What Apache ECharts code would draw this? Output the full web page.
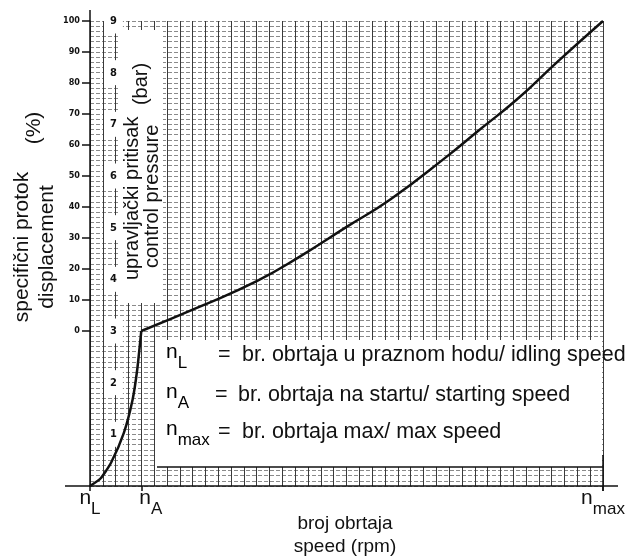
<!DOCTYPE html>
<html>
<head>
<meta charset="utf-8">
<script src="https://cdn.jsdelivr.net/npm/echarts@6/dist/echarts.min.js"></script>
<style>
html, body { margin: 0; padding: 0; background: #fff; }
#main { width: 633px; height: 558px; }
</style>
</head>
<body>
<div id="main"></div>
<script>
// speed axis: nL = 0, nmax = 100
var speed = [0, 2, 4.1, 6.6, 8.3, 9.2, 10, 21.4, 32.6, 40.9, 50.1, 58.6, 69.6, 76, 83.2, 91, 100]
// control pressure (bar)
var pressure = [0, 0.14, 0.45, 1.03, 1.67, 2.25, 3.0, 3.47, 3.97, 4.44, 5.02, 5.55, 6.38, 6.9, 7.48, 8.2, 9.0]
var startIndex = 6 // nA, where the curve bends

var speedTicks = [0, 10, 100]
var speedNames = ['{n|n}{s|L}', '{g|}{n|n}{s|A}', '{n|n}{s|max}']
var pctTicks = [0, 10, 20, 30, 40, 50, 60, 70, 80, 90, 100]
var barTicks = [1, 2, 3, 4, 5, 6, 7, 8, 9]

var font = 'Liberation Sans, Arial, sans-serif'
var ink = '#111'
var hatch = { color: '#8a8a8a', type: [4, 2] }

var myChart = echarts.init(document.getElementById('main'))

function txt(x, y, text, size, rot, align) {
  return {
    type: 'text', x: x, y: y, rotation: rot || 0, z: 6,
    style: { text: text, fill: ink, font: size + 'px ' + font, align: align || 'left', verticalAlign: 'middle' }
  }
}
function line(x1, y1, x2, y2, w) {
  return { type: 'line', z: 4, shape: { x1: x1, y1: y1, x2: x2, y2: y2 }, style: { stroke: ink, lineWidth: w || 1.5 } }
}
var subRich = {
  n: { fontSize: 21, fontFamily: font, color: ink, lineHeight: 30, verticalAlign: 'top' },
  s: { fontSize: 17, fontFamily: font, color: ink, lineHeight: 17, verticalAlign: 'bottom' },
  g: { width: 19 }
}
function subTxt(x, y, main, sub) {
  return {
    type: 'text', x: x, y: y, z: 6,
    style: { text: '{n|' + main + '}{s|' + sub + '}', rich: subRich, align: 'left', verticalAlign: 'middle' }
  }
}
function pairs(from, to) {
  var out = []
  for (var i = from; i <= to; i++) out.push([speed[i], pressure[i]])
  return out
}

myChart.setOption({
  animation: false,
  grid: { left: 90, right: 30, top: 21, bottom: 72 },
  xAxis: [{
    // only the vertical grid
    type: 'value',
    min: 0,
    max: 100,
    interval: 2.5,
    axisLine: { show: false, onZero: false },
    axisTick: { show: false },
    axisLabel: { show: false },
    splitLine: { show: true, lineStyle: { color: '#3a3a3a', width: 1 } }
  }, {
    type: 'value',
    min: 0,
    max: 100,
    position: 'bottom',
    axisLine: { onZero: false, lineStyle: { color: ink, width: 1.5 } },
    axisTick: { customValues: speedTicks, length: 5, lineStyle: { color: ink, width: 1.5 } },
    axisLabel: {
      customValues: speedTicks,
      margin: 2,
      formatter: function(v) { return speedNames[speedTicks.indexOf(v)] },
      rich: subRich
    },
    splitLine: { show: false }
  }],
  yAxis: [{
    type: 'value',
    min: 0,
    max: 9,
    interval: 1,
    position: 'left',
    axisLine: { show: true, onZero: false, lineStyle: { color: ink, width: 1.5 } },
    axisTick: { show: false },
    axisLabel: {
      customValues: barTicks,
      inside: true,
      margin: 14,
      color: ink,
      fontSize: 11,
      fontWeight: 'bold',
      fontFamily: 'DejaVu Sans Condensed',
      backgroundColor: '#fff',
      padding: [7, 6]
    },
    splitLine: { show: true, lineStyle: hatch },
    minorTick: { show: false, splitNumber: 10 },
    minorSplitLine: { show: true, lineStyle: hatch }
  }, {
    type: 'value',
    min: -50,
    max: 100,
    interval: 10,
    position: 'left',
    axisLine: { show: false, onZero: false },
    axisTick: { show: true, customValues: pctTicks, length: 8, lineStyle: { color: ink, width: 1.5 } },
    axisLabel: {
      customValues: pctTicks,
      margin: 10,
      color: ink,
      fontSize: 9,
      fontWeight: 'bold',
      fontFamily: 'DejaVu Sans Condensed'
    },
    splitLine: { show: false }
  }],
  graphic: [
    { type: 'rect', z: 3, shape: { x: 120, y: 30, width: 43, height: 273 }, style: { fill: '#fff' } },
    { type: 'rect', z: 3, shape: { x: 155, y: 340, width: 447, height: 127 }, style: { fill: '#fff' } },
    line(157, 467, 603, 467),
    line(603, 455, 603, 491),
    line(65, 486, 90, 486),
    line(603, 486, 618, 486),
    line(90, 21, 90, 10),
    txt(22, 247, 'specifični protok', 21, Math.PI / 2, 'center'),
    txt(47, 247, 'displacement', 21, Math.PI / 2, 'center'),
    txt(34, 128, '(%)', 21, Math.PI / 2, 'center'),
    txt(132, 280, 'upravljački pritisak', 20, Math.PI / 2, 'left'),
    txt(141, 84, '(bar)', 20, Math.PI / 2, 'center'),
    txt(152, 268, 'control pressure', 20, Math.PI / 2, 'left'),
    subTxt(166, 357, 'n', 'L'),
    txt(218, 355, '=', 21.5),
    txt(242, 355, 'br. obrtaja u praznom hodu/ idling speed', 21.5),
    subTxt(166, 397, 'n', 'A'),
    txt(215, 395, '=', 21.5),
    txt(238, 395, 'br. obrtaja na startu/ starting speed', 21.5),
    subTxt(166, 434, 'n', 'max'),
    txt(218, 432, '=', 21.5),
    txt(242, 432, 'br. obrtaja max/ max speed', 21.5),
    txt(345, 524, 'broj obrtaja', 19, 0, 'center'),
    txt(345, 547, 'speed (rpm)', 19, 0, 'center')
  ],
  series: [{
    type: 'line',
    xAxisIndex: 0,
    yAxisIndex: 0,
    data: pairs(0, startIndex),
    showSymbol: false,
    smooth: 0.2,
    z: 5,
    lineStyle: { color: ink, width: 2.5 }
  }, {
    type: 'line',
    xAxisIndex: 0,
    yAxisIndex: 0,
    data: pairs(startIndex, speed.length - 1),
    showSymbol: false,
    smooth: 0.5,
    z: 5,
    lineStyle: { color: ink, width: 2.5 }
  }]
})
</script>
</body>
</html>
